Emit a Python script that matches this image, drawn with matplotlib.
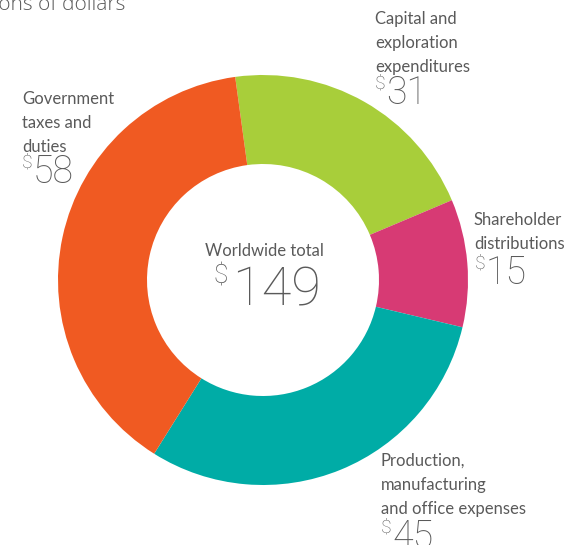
import matplotlib
matplotlib.use("Agg")
import matplotlib.pyplot as plt

categories = ["Capital and\nexploration\nexpenditures", "Shareholder\ndistributions",
              "Production,\nmanufacturing\nand office expenses", "Government\ntaxes and\nduties"]
values = [31, 15, 45, 58]
colors = ["#A8CE3A", "#D73A74", "#00ACA6", "#F05A22"]
total = 149
title = "Billions of dollars"
center_label = "Worldwide total"

W, H = 569, 545
fig = plt.figure(figsize=(W / 100, H / 100), dpi=100)
ax = fig.add_axes([0, 0, 1, 1])

cx, cy = 263, H - 280
R = 205
ax.pie(values, colors=colors, startangle=97.8, counterclock=False,
       center=(cx, cy), radius=R, wedgeprops=dict(width=R - 116, linewidth=0),
       frame=True)
ax.set_xlim(0, W)
ax.set_ylim(0, H)
ax.set_aspect("equal")
ax.axis("off")

FONT = "Lato"
NUMFONT = "Roboto"
GRAY = "#5a5a5a"

def Y(y):
    return H - y

ax.text(125, Y(10), title, ha="right", va="baseline", fontsize=15,
        color=GRAY, family="Open Sans", fontweight="light")

def label(x, ytop, text, dollar_x, num_x, num_base, value, size=12, numsize=27, dsize=14):
    ax.text(x, Y(ytop), text, ha="left", va="top", fontsize=size, color=GRAY,
            family=FONT, linespacing=1.62)
    ax.text(num_x, Y(num_base), str(value), ha="left", va="baseline",
            fontsize=numsize, color=GRAY, family=NUMFONT, fontweight="light")
    ax.text(dollar_x, Y(num_base - numsize * 1.389 * 0.71) + 3, "$", ha="left", va="top",
            fontsize=dsize, color=GRAY, family=NUMFONT, fontweight="light")

label(375, 11, categories[0], 375, 386, 104, values[0])
label(474, 212, categories[1], 475, 486, 284, values[1])
label(381, 453, categories[2], 381, 392, 548, values[2])
label(22, 91, categories[3], 22, 33, 183, values[3])

ax.text(264, Y(256), center_label, ha="center", va="baseline", fontsize=12,
        color=GRAY, family=FONT)
ax.text(232, Y(306), str(total), ha="left", va="baseline", fontsize=39,
        color=GRAY, family=NUMFONT, fontweight="light")
ax.text(214, Y(306 - 39 * 1.389 * 0.71) + 3, "$", ha="left", va="top", fontsize=19,
        color=GRAY, family=NUMFONT, fontweight="light")

fig.savefig("out.png", dpi=100)
